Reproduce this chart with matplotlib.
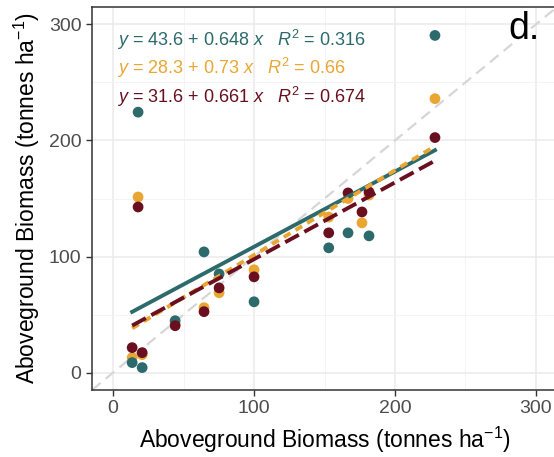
import numpy as np
import matplotlib
matplotlib.use("Agg")
import matplotlib.pyplot as plt

plt.rcParams['font.family'] = ['Liberation Sans', 'DejaVu Sans']
plt.rcParams['mathtext.fontset'] = 'custom'
plt.rcParams['mathtext.rm'] = 'Liberation Sans'
plt.rcParams['mathtext.it'] = 'Liberation Sans:italic'

# observed aboveground biomass (x) shared by all three estimates
observed = [13.5, 17.7, 20.6, 44.0, 64.5, 75.2, 100.0, 153.0, 166.7, 176.6, 181.6, 228.4]
teal_est = [8.6, 224.4, 4.3, 44.7, 104.0, 85.0, 61.0, 107.5, 120.4, np.nan, 117.8, 290.5]
orange_est = [12.9, 151.3, 15.5, 42.0, 55.9, 68.8, 88.6, 134.0, 150.0, 129.0, 153.0, 236.0]
red_est = [21.5, 142.7, 17.2, 40.4, 52.5, 73.0, 82.5, 120.4, 154.8, 138.4, 155.6, 202.5]

fits = {  # intercept, slope, r2
    'teal': (43.6, 0.648, '0.316'),
    'orange': (28.3, 0.73, '0.66'),
    'red': (31.6, 0.661, '0.674'),
}
colors = {'teal': '#2c6a6b', 'orange': '#e9a632', 'red': '#6a0f1f'}
series = {'orange': orange_est, 'teal': teal_est, 'red': red_est}
dashes = {'teal': None, 'orange': (2.0, 1.5), 'red': (4.0, 1.6)}

fig = plt.figure(figsize=(5.54, 4.57), dpi=100)
ax = fig.add_axes([92/554, (457-390)/457, (557-92)/554, (390-7)/457])

ax.set_xlim(-15, 315)
ax.set_ylim(-15, 315)
ticks = [0, 100, 200, 300]
ax.set_xticks(ticks)
ax.set_yticks(ticks)
ax.set_xticks([50, 150, 250], minor=True)
ax.set_yticks([50, 150, 250], minor=True)
ax.grid(which='major', color='#ebebeb', lw=1.1)
ax.grid(which='minor', color='#f3f3f3', lw=0.6)
ax.set_axisbelow(True)

# 1:1 line
ax.plot([-15, 315], [-15, 315], color='#d6d6d6', lw=1.6, dashes=(5, 3), zorder=1)

for key in ['orange', 'teal', 'red']:
    ax.scatter(observed, series[key], s=60, color=colors[key], edgecolors='none', zorder=3)

xs = np.array([min(observed), max(observed)])
for key in ['teal', 'orange', 'red']:
    b0, b1, r2 = fits[key]
    ln, = ax.plot(xs, b0 + b1 * xs, color=colors[key], lw=2.8, zorder=4)
    if dashes[key] is not None:
        ln.set_dashes(dashes[key])

ys = [0.915, 0.84, 0.765]
for key, yy in zip(['teal', 'orange', 'red'], ys):
    b0, b1, r2 = fits[key]
    txt = r"$y$ = %s + %s $x$   $R^2$ = %s" % (b0, b1, r2)
    ax.text(0.053, yy, txt, transform=ax.transAxes, color=colors[key],
            fontsize=13, va='center', ha='left')

ax.text(0.93, 0.942, 'd.', transform=ax.transAxes, fontsize=27, ha='center', va='center')

for s in ax.spines.values():
    s.set_color('#333333')
    s.set_linewidth(1.1)
ax.tick_params(which='major', length=4, color='#333333', width=1, labelsize=14,
               labelcolor='#4d4d4d')
ax.tick_params(which='minor', length=0)

ax.set_xlabel('Aboveground Biomass (tonnes ha$^{-1}$)', fontsize=16.5, labelpad=5)
ax.set_ylabel('Aboveground Biomass (tonnes ha$^{-1}$)', fontsize=16.5, labelpad=5)

fig.savefig('out.png', dpi=100)
